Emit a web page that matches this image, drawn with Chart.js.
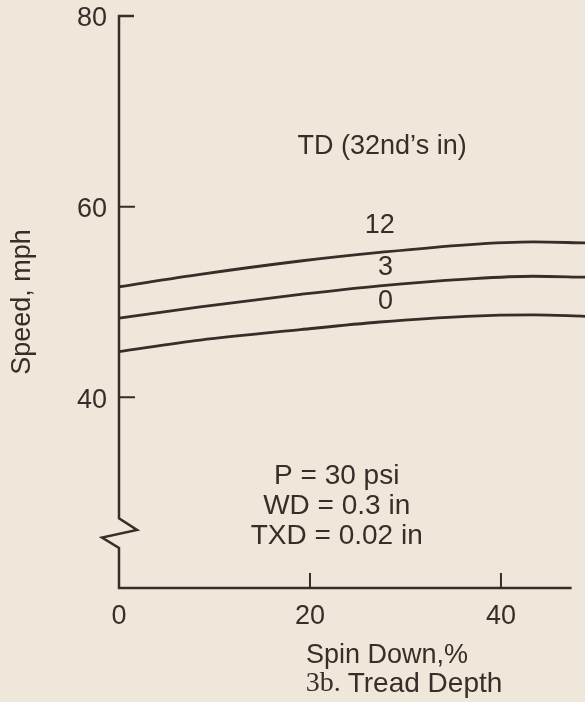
<!DOCTYPE html>
<html>
<head>
<meta charset="utf-8">
<script src="https://cdn.jsdelivr.net/npm/chart.js@4"></script>
<style>
  html, body { margin: 0; padding: 0; background: #efe8da; }
  #wrap { width: 585px; height: 702px; position: relative; }
</style>
</head>
<body>
<div id="wrap"><canvas id="chart"></canvas></div>
<script>
// values
const spinDown = [0, 8.5, 19, 27.3, 36.4, 43.4, 48.8];
const speedTD12 = [51.6, 52.9, 54.3, 55.2, 56.0, 56.3, 56.2];
const speedTD3 = [48.3, 49.5, 50.8, 51.7, 52.4, 52.7, 52.6];
const speedTD0 = [44.8, 46.0, 47.1, 47.9, 48.5, 48.65, 48.5];
const curveLabels = ['12', '3', '0'];
const yTicks = [40, 60, 80];
const xTicks = [0, 20, 40];
const conditions = ['P = 30 psi', 'WD = 0.3 in', 'TXD = 0.02 in'];

const ink = '#3a2c28';
const FONT = '"Liberation Sans", Arial, sans-serif';

function pts(ys) {
  return spinDown.map((x, i) => ({ x: x, y: ys[i] }));
}

// axis lines with the break on the speed axis, inward ticks, annotations
const figureArt = {
  id: 'figureArt',
  afterDraw(chart) {
    const { ctx, scales: { x, y } } = chart;
    const x0 = x.getPixelForValue(0);
    ctx.save();
    ctx.strokeStyle = ink;
    ctx.lineWidth = 2.5;
    ctx.lineJoin = 'miter';
    // y axis with zigzag break
    ctx.beginPath();
    ctx.moveTo(x0 + 15, y.getPixelForValue(80));
    ctx.lineTo(x0, y.getPixelForValue(80));
    ctx.lineTo(x0, y.getPixelForValue(27.3));
    ctx.lineTo(x0 + 18, y.getPixelForValue(26.1));
    ctx.lineTo(x0 - 17, y.getPixelForValue(25.3));
    ctx.lineTo(x0, y.getPixelForValue(24.2));
    ctx.lineTo(x0, y.getPixelForValue(20));
    ctx.lineTo(x.getPixelForValue(47.4), y.getPixelForValue(20));
    ctx.stroke();
    // inward tick marks
    ctx.lineWidth = 2;
    ctx.beginPath();
    [40, 60].forEach(v => {
      ctx.moveTo(x0, y.getPixelForValue(v));
      ctx.lineTo(x0 + 16, y.getPixelForValue(v));
    });
    [20, 40].forEach(v => {
      ctx.moveTo(x.getPixelForValue(v), y.getPixelForValue(20));
      ctx.lineTo(x.getPixelForValue(v), y.getPixelForValue(20) - 15);
    });
    ctx.stroke();

    ctx.fillStyle = ink;
    ctx.font = '27px ' + FONT;
    ctx.textBaseline = 'middle';
    ctx.textAlign = 'left';
    ctx.fillText("TD (32nd\u2019s in)", x.getPixelForValue(18.7), y.getPixelForValue(66.3));

    ctx.textAlign = 'center';
    ctx.fillText(curveLabels[0], x.getPixelForValue(27.3), y.getPixelForValue(58.0));
    ctx.fillText(curveLabels[1], x.getPixelForValue(27.9), y.getPixelForValue(53.6));
    ctx.fillText(curveLabels[2], x.getPixelForValue(27.9), y.getPixelForValue(50.0));

    ctx.font = '28px ' + FONT;
    const condY = [31.7, 28.6, 25.4];
    conditions.forEach((t, i) => {
      ctx.fillText(t, x.getPixelForValue(22.8), y.getPixelForValue(condY[i]));
    });

    // x axis title and caption
    ctx.font = '27px ' + FONT;
    const left = chart.chartArea.left;
    ctx.fillText('Spin Down,%', left + 268, 656);
    ctx.font = '28px "Liberation Serif", serif';
    const p1 = '3b. ';
    const w1 = ctx.measureText(p1).width;
    ctx.font = '28px ' + FONT;
    const p2 = 'Tread Depth';
    const w2 = ctx.measureText(p2).width;
    const start = left + 285 - (w1 + w2) / 2;
    ctx.textAlign = 'left';
    ctx.font = '28px "Liberation Serif", serif';
    ctx.fillText(p1, start, 684);
    ctx.font = '28px ' + FONT;
    ctx.fillText(p2, start + w1, 684);
    ctx.restore();
  }
};

new Chart(document.getElementById('chart'), {
  type: 'line',
  data: {
    datasets: [
      { label: 'TD 12', data: pts(speedTD12) },
      { label: 'TD 3', data: pts(speedTD3) },
      { label: 'TD 0', data: pts(speedTD0) }
    ].map(d => Object.assign(d, {
      borderColor: ink,
      borderWidth: 2.8,
      pointRadius: 0,
      fill: false,
      cubicInterpolationMode: 'monotone'
    }))
  },
  options: {
    responsive: true,
    maintainAspectRatio: false,
    animation: false,
    layout: { padding: { top: 16, left: 0, right: 0, bottom: 0 } },
    plugins: { legend: { display: false }, tooltip: { enabled: false } },
    scales: {
      x: {
        type: 'linear',
        min: 0,
        max: 48.8,
        afterBuildTicks: s => { s.ticks = xTicks.map(v => ({ value: v })); },
        afterFit: s => { s.height = 114; s.paddingLeft = 0; s.paddingRight = 0; },
        grid: { display: false },
        border: { display: false },
        ticks: { color: ink, font: { family: FONT, size: 27 }, padding: 4, maxRotation: 0 }
      },
      y: {
        min: 20,
        max: 80,
        afterBuildTicks: s => { s.ticks = yTicks.map(v => ({ value: v })); },
        afterFit: s => { s.width = 119; s.paddingTop = 0; s.paddingBottom = 0; },
        grid: { display: false },
        border: { display: false },
        ticks: { color: ink, font: { family: FONT, size: 27 }, padding: 4, labelOffset: 3 },
        title: {
          display: true,
          text: 'Speed, mph',
          color: ink,
          font: { family: FONT, size: 27 },
          padding: { top: 6, bottom: 0 }
        }
      }
    }
  },
  plugins: [figureArt]
});
</script>
</body>
</html>
